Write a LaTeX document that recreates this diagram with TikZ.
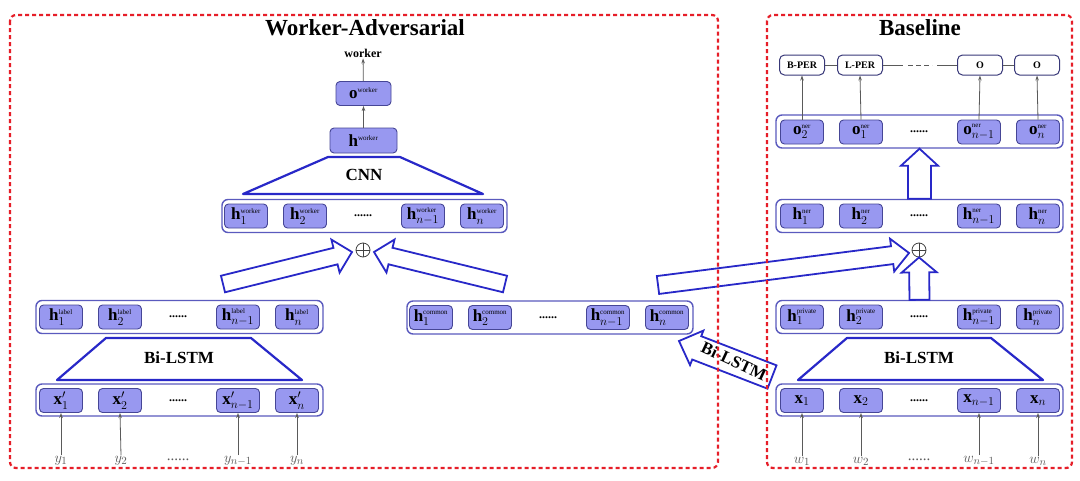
\documentclass[tikz,border=0pt]{standalone}
\usepackage{fontspec}
\setmainfont{Liberation Serif}
\usetikzlibrary{calc,arrows.meta}
\definecolor{redbox}{RGB}{230,30,40}
\definecolor{cellfill}{RGB}{152,152,240}
\definecolor{celldraw}{RGB}{70,70,150}
\definecolor{rowdraw}{RGB}{90,90,190}
\definecolor{trapblue}{RGB}{40,40,200}
\definecolor{arrowgray}{RGB}{90,90,90}
\newcommand{\tsup}[1]{\mbox{\fontsize{7}{7}\selectfont #1}}
\newcommand{\hv}[2]{$\mathbf{h}^{\tsup{#1}}_{#2}$}
\newcommand{\fatarr}[5]{%
 \coordinate (fahead) at ($(#2)!#5!(#1)$);
 \draw[fat] ($(#1)!#3!90:(#2)$) -- ($(fahead)!#3!-90:(#1)$) -- ($(fahead)!#4!-90:(#1)$) -- (#2) -- ($(fahead)!#4!90:(#1)$) -- ($(fahead)!#3!90:(#1)$) -- ($(#1)!#3!-90:(#2)$) -- cycle;}
\begin{document}
\begin{tikzpicture}[x=1pt,y=-1pt,
 cell/.style={draw=celldraw, fill=cellfill, rounded corners=4pt, line width=0.9pt, minimum width=43pt, minimum height=24pt, inner sep=1pt, font=\fontsize{17}{17}\selectfont},
 rowbox/.style={draw=rowdraw, fill=white, rounded corners=6pt, line width=1.4pt, minimum width=287pt, minimum height=33pt},
 tagbox/.style={draw=celldraw!80!black, fill=white, rounded corners=5pt, line width=1pt, minimum width=45pt, minimum height=20pt, inner sep=1pt, font=\fontsize{10}{10}\selectfont\bfseries},
 dotsnode/.style={font=\fontsize{12}{12}\selectfont\bfseries},
 trap/.style={draw=trapblue, line width=2.2pt, line join=round},
 fat/.style={draw=trapblue, fill=white, line width=1.8pt, line join=miter},
 thinarrow/.style={draw=arrowgray, line width=0.8pt, -{Stealth[length=5pt,width=3.5pt]}},
 tagline/.style={draw=arrowgray, line width=0.8pt},
 inlabel/.style={text=arrowgray, font=\fontsize{15}{15}\selectfont, inner sep=1pt},
 layer/.style={font=\fontsize{17}{17}\selectfont\bfseries},
 title/.style={font=\fontsize{23}{23}\selectfont\bfseries},
 panel/.style={draw=redbox, line width=2.2pt, dash pattern=on 4pt off 3pt, rounded corners=6pt},
 oplus/.style={circle, draw=black!75, line width=0.8pt, minimum size=14pt, inner sep=0pt}
]
\useasboundingbox (0,0) rectangle (1080,480);
\fill[white] (0,0) rectangle (1080,480);

% ---------- titles ----------
\node[title, anchor=base] (t1) at (365,35) {Worker-Adversarial};
\node[title, anchor=base] (t2) at (920,35) {Baseline};

% ---------- worker discriminator ----------
\node[font=\fontsize{12}{12}\selectfont\bfseries, inner sep=1pt] (wout) at (363,53) {worker};
\node[cell, minimum width=55pt] (ow) at (363.5,93.5) {$\mathbf{o}^{\tsup{worker}}$};
\node[cell, minimum width=67pt, minimum height=25pt] (hw) at (363.5,140.5) {$\mathbf{h}^{\tsup{worker}}$};
\draw[thinarrow] (hw) -- (ow);
\draw[thinarrow] (ow) -- (wout);
\draw[trap] (328,157) -- (400,157) -- (483,194) -- (243,194) -- cycle;
\node[layer] (cnn) at (364,175) {CNN};

\node[rowbox, minimum width=285pt] (rw) at (364.5,216) {};
\node[cell] (w1) at (246,216) {\hv{worker}{1}};
\node[cell] (w2) at (305,216) {\hv{worker}{2}};
\node[dotsnode] (wd) at (363,216) {......};
\node[cell] (w3) at (423,216) {\hv{worker}{n-1}};
\node[cell] (w4) at (482,216) {\hv{worker}{n}};

\node[oplus] (p1) at (363,250) {};
\draw[line width=0.8pt, draw=black!75] (p1.north) -- (p1.south) (p1.west) -- (p1.east);

% ---------- label encoder ----------
\node[rowbox] (rl) at (179.5,317) {};
\node[cell] (l1) at (61,317) {\hv{label}{1}};
\node[cell] (l2) at (120,317) {\hv{label}{2}};
\node[dotsnode] (ld) at (178,317) {......};
\node[cell] (l3) at (238,317) {\hv{label}{n-1}};
\node[cell] (l4) at (297,317) {\hv{label}{n}};

\draw[trap] (106,338) -- (251,338) -- (302,380) -- (57,380) -- cycle;
\node[layer] (bl1) at (179,358) {Bi-LSTM};

\node[rowbox, minimum height=32pt] (rx) at (179.5,400) {};
\node[cell] (xp1) at (61,400.5) {$\mathbf{x}'_{1}$};
\node[cell] (xp2) at (120,400.5) {$\mathbf{x}'_{2}$};
\node[dotsnode] (xpd) at (178,400.5) {......};
\node[cell] (xp3) at (238,400.5) {$\mathbf{x}'_{n-1}$};
\node[cell] (xp4) at (297,400.5) {$\mathbf{x}'_{n}$};

\node[inlabel] (y1) at (61,461) {$y_1$};
\node[inlabel] (y2) at (121,461) {$y_2$};
\node[inlabel] (yd) at (178,460) {......};
\node[inlabel] (y3) at (238,461) {$y_{n-1}$};
\node[inlabel] (y4) at (297,461) {$y_n$};
\draw[thinarrow] (y1.north) -- (xp1.south);
\draw[thinarrow] (y2.north) -- (xp2.south);
\draw[thinarrow] (y3.north) -- (xp3.south);
\draw[thinarrow] (y4.north) -- (xp4.south);

% ---------- common row ----------
\node[rowbox, minimum width=286pt] (rc) at (550,317.5) {};
\node[cell] (c1) at (431,317.5) {\hv{common}{1}};
\node[cell] (c2) at (490,317.5) {\hv{common}{2}};
\node[dotsnode] (cd) at (548,317.5) {......};
\node[cell] (c3) at (608,317.5) {\hv{common}{n-1}};
\node[cell] (c4) at (667,317.5) {\hv{common}{n}};

% ---------- baseline ----------
\node[tagbox] (bper) at (802,65) {B-PER};
\node[tagbox] (lper) at (860,65) {L-PER};
\node[tagbox] (tO1) at (980,65) {O};
\node[tagbox] (tO2) at (1037,65) {O};
\coordinate (da) at (903,65);
\coordinate (db) at (937,65);
\draw[tagline] (bper) -- (lper);
\draw[tagline] (lper) -- (da);
\draw[tagline, dash pattern=on 5pt off 3pt] ($(da)+(5,0)$) -- ($(db)+(-5,0)$);
\draw[tagline] (db) -- (tO1);
\draw[tagline] (tO1) -- (tO2);

\node[rowbox] (ro) at (919.5,131.5) {};
\node[cell] (on1) at (802,132) {$\mathbf{o}^{\tsup{ner}}_{2}$};
\node[cell] (on2) at (861,132) {$\mathbf{o}^{\tsup{ner}}_{1}$};
\node[dotsnode] (ond) at (919,132) {......};
\node[cell] (on3) at (979,132) {$\mathbf{o}^{\tsup{ner}}_{n-1}$};
\node[cell] (on4) at (1038,132) {$\mathbf{o}^{\tsup{ner}}_{n}$};
\draw[thinarrow] (on1.north) -- (bper.south);
\draw[thinarrow] (on2.north) -- (lper.south);
\draw[thinarrow] (on3.north) -- (tO1.south);
\draw[thinarrow] (on4.north) -- (tO2.south);

\node[rowbox] (rh) at (919.5,216) {};
\node[cell] (hn1) at (802,216) {\hv{ner}{1}};
\node[cell] (hn2) at (861,216) {\hv{ner}{2}};
\node[dotsnode] (hnd) at (919,216) {......};
\node[cell] (hn3) at (979,216) {\hv{ner}{n-1}};
\node[cell] (hn4) at (1038,216) {\hv{ner}{n}};

\node[oplus] (p2) at (919,250) {};
\draw[line width=0.8pt, draw=black!75] (p2.north) -- (p2.south) (p2.west) -- (p2.east);

\node[rowbox] (rp) at (919.5,317) {};
\node[cell] (hp1) at (802,317) {\hv{private}{1}};
\node[cell] (hp2) at (861,317) {\hv{private}{2}};
\node[dotsnode] (hpd) at (919,317) {......};
\node[cell] (hp3) at (979,317) {\hv{private}{n-1}};
\node[cell] (hp4) at (1038,317) {\hv{private}{n}};

\draw[trap] (847,338) -- (991,338) -- (1043,380) -- (798,380) -- cycle;
\node[layer] (bl2) at (919,358) {Bi-LSTM};

\node[rowbox, minimum height=32pt] (rxb) at (919.5,400) {};
\node[cell] (x1) at (802,400.5) {$\mathbf{x}_{1}$};
\node[cell] (x2) at (861,400.5) {$\mathbf{x}_{2}$};
\node[dotsnode] (xd) at (919,400.5) {......};
\node[cell] (x3) at (979,400.5) {$\mathbf{x}_{n-1}$};
\node[cell] (x4) at (1038,400.5) {$\mathbf{x}_{n}$};

\node[inlabel] (wi1) at (802,461) {$w_1$};
\node[inlabel] (wi2) at (861,461) {$w_2$};
\node[inlabel] (wid) at (919,460) {......};
\node[inlabel] (wi3) at (979,461) {$w_{n-1}$};
\node[inlabel] (wi4) at (1038,461) {$w_n$};
\draw[thinarrow] (wi1.north) -- (x1.south);
\draw[thinarrow] (wi2.north) -- (x2.south);
\draw[thinarrow] (wi3.north) -- (x3.south);
\draw[thinarrow] (wi4.north) -- (x4.south);

% ---------- fat arrows ----------
\coordinate (a1t) at (223,284);
\coordinate (a1h) at (352,252);
\coordinate (a2t) at (505,284);
\coordinate (a2h) at (374,252);
\coordinate (a3t) at (658,285);
\coordinate (a3h) at (909,253);
\coordinate (b1t) at (772,377);
\coordinate (b1h) at (679,341);
\fatarr{a1t}{a1h}{8.5pt}{17pt}{17pt}
\fatarr{a2t}{a2h}{8.5pt}{17pt}{17pt}
\fatarr{a3t}{a3h}{9pt}{16.5pt}{17pt}
\fatarr{rp.north}{p2.south}{10pt}{17.5pt}{15pt}
\fatarr{rh.north}{ro.south}{11.5pt}{18.5pt}{17pt}
\fatarr{b1t}{b1h}{12.5pt}{18.5pt}{19pt}
\node[font=\fontsize{17}{17}\selectfont\bfseries, rotate=-25, inner sep=0pt] (bl3) at (734,361) {Bi-LSTM};

% ---------- panels ----------
\draw[panel] (10,15) rectangle (718,468);
\draw[panel] (767,15) rectangle (1072,468);
\end{tikzpicture}
\end{document}
